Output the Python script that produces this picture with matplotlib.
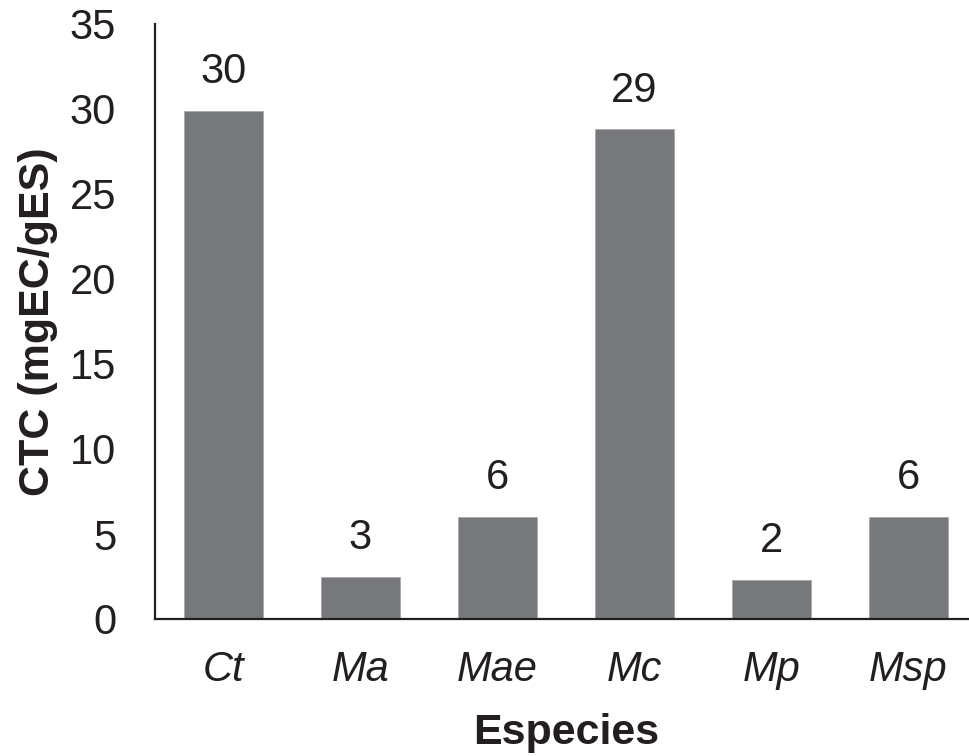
import numpy as np
import matplotlib
matplotlib.use('Agg')
import matplotlib.pyplot as plt

plt.rcParams['font.family'] = ['Liberation Sans', 'DejaVu Sans']

especies = ['Ct', 'Ma', 'Mae', 'Mc', 'Mp', 'Msp']
ctc = [29.9, 2.5, 6.0, 28.8, 2.3, 6.0]
etiquetas = ['30', '3', '6', '29', '2', '6']

txt = '#231f20'

fig = plt.figure(figsize=(9.69, 7.56), dpi=100)
ax = fig.add_axes([155/969, 137/756, 822/969, 595/756])

x = np.arange(len(especies))
ax.bar(x, ctc, width=0.57, color='#77787b', edgecolor='#a7a8aa', linewidth=0.6)

for xi, v, t in zip(x, ctc, etiquetas):
    ax.annotate(t, (xi, v), xytext=(0, 20), textcoords='offset points',
                ha='center', va='baseline', fontsize=30, color=txt)

ax.set_xlim(-0.5, 5.5)
ax.set_ylim(0, 35)
ax.set_yticks(np.arange(0, 36, 5))
ax.set_xticks(x)
ax.set_xticklabels(especies, fontstyle='italic')
ax.tick_params(axis='both', length=0, labelsize=30, labelcolor=txt)
ax.tick_params(axis='y', pad=28)
ax.tick_params(axis='x', pad=22)

for s in ['top', 'right']:
    ax.spines[s].set_visible(False)
for s in ['left', 'bottom']:
    ax.spines[s].set_linewidth(1.6)
    ax.spines[s].set_color(txt)

ax.set_xlabel('Especies', fontsize=31, fontweight='bold', color=txt, labelpad=17)
ax.set_ylabel('CTC (mgEC/gES)', fontsize=31, fontweight='bold', color=txt, labelpad=8)

fig.savefig('out.png', dpi=100)
